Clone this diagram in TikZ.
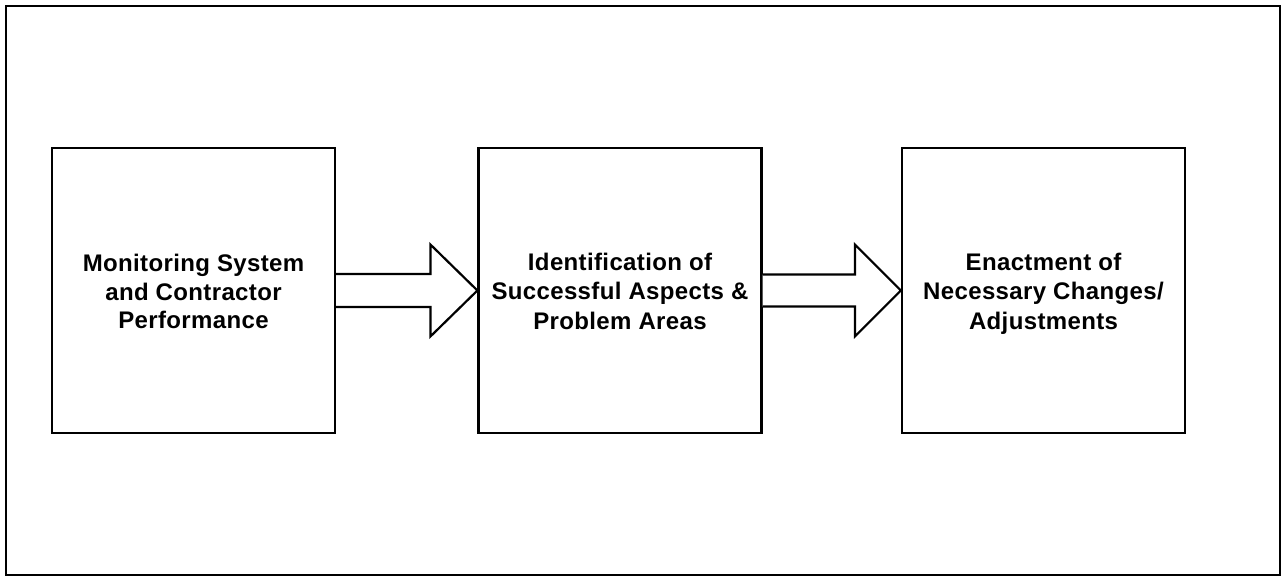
\documentclass[tikz,border=0pt]{standalone}
\usepackage{fontspec}
\setmainfont{Liberation Sans}[LetterSpace=1.5]
\newcommand{\lnstrut}{\rule[-4.6pt]{0pt}{28.6pt}}
\begin{document}
\begin{tikzpicture}[x=1pt,y=-1pt,
  stepbox/.style={draw, line width=2.2pt, minimum width=283pt, minimum height=285pt,
    inner sep=0pt, align=center, font=\bfseries\fontsize{24}{28.5}\selectfont},
  barrow/.style={draw, line width=2.2pt, line join=miter, fill=white},
  frame/.style={draw, line width=2.2pt}]
\useasboundingbox (0,0) rectangle (1283,578);
\draw[frame] (6,6) rectangle (1280,575);
\node[stepbox] (b1) at (193.5,290.5) {\lnstrut Monitoring System\\and Contractor\\Performance\lnstrut};
\node[stepbox] (b2) at (620,290.5) {\lnstrut Identification of\\Successful Aspects \&\\Problem Areas\lnstrut};
\node[stepbox] (b3) at (1043.5,290.5) {\lnstrut Enactment of\\Necessary Changes/\\Adjustments\lnstrut};
\draw[barrow] ([yshift=-16.5pt]b1.east) -- ([xshift=-47pt,yshift=-16.5pt]b2.west)
  -- ([xshift=-47pt,yshift=-46pt]b2.west) -- (b2.west)
  -- ([xshift=-47pt,yshift=46pt]b2.west) -- ([xshift=-47pt,yshift=16.5pt]b2.west)
  -- ([yshift=16.5pt]b1.east);
\draw[barrow] ([yshift=-16pt]b2.east) -- ([xshift=-46pt,yshift=-16pt]b3.west)
  -- ([xshift=-46pt,yshift=-46pt]b3.west) -- (b3.west)
  -- ([xshift=-46pt,yshift=46pt]b3.west) -- ([xshift=-46pt,yshift=16pt]b3.west)
  -- ([yshift=16pt]b2.east);
\end{tikzpicture}
\end{document}
